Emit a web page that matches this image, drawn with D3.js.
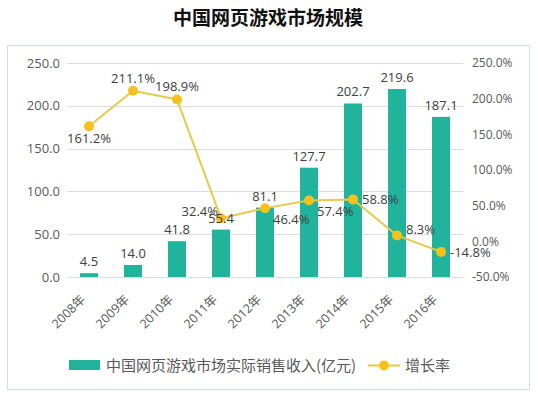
<!DOCTYPE html>
<html>
<head>
<meta charset="utf-8">
<script src="https://cdn.jsdelivr.net/npm/d3@7"></script>
<style>
  body { margin: 0; background: #fff; }
  text { font-family: "Open Sans", "Noto Sans CJK SC", sans-serif; }
</style>
</head>
<body>
<script>
var w = 538;
var h = 398;

var years = ["2008年", "2009年", "2010年", "2011年", "2012年", "2013年", "2014年", "2015年", "2016年"];
var revenue = [4.5, 14.0, 41.8, 55.4, 81.1, 127.7, 202.7, 219.6, 187.1];
var growth = [161.2, 211.1, 198.9, 32.4, 46.4, 57.4, 58.8, 8.3, -14.8];
var leftTicks = [0, 50, 100, 150, 200, 250];
var rightTicks = [-50, 0, 50, 100, 150, 200, 250];
// where each growth label sits relative to its point
var growthLabelPos = ["below", "above", "above", "leftAbove", "rightBelow", "rightBelow", "right", "rightAbove", "right"];

var teal = "#21b39b";
var gold = "#f6c11c";
var goldLine = "#e9c84e";

var svg = d3.select("body")
    .append("svg")
    .attr("width", w)
    .attr("height", h);

// title
svg.append("text")
    .attr("x", 268)
    .attr("y", 25)
    .attr("text-anchor", "middle")
    .style("font-family", "'Noto Sans CJK SC', sans-serif")
    .style("font-weight", "bold")
    .style("font-size", "19px")
    .style("fill", "#111")
    .text("中国网页游戏市场规模");

// chart frame
svg.append("rect")
    .attr("x", 7.5)
    .attr("y", 45.5)
    .attr("width", 522)
    .attr("height", 344)
    .attr("fill", "none")
    .attr("stroke", "#d3dcdc");

var x = d3.scaleBand()
    .domain(years)
    .range([67, 463])
    .paddingInner(0.59)
    .paddingOuter(0.295);

var yL = d3.scaleLinear().domain([0, 250]).range([277, 63]);
var yR = d3.scaleLinear().domain([-50, 250]).range([277, 63]);

// gridlines
svg.append("g")
    .selectAll("line")
    .data(leftTicks)
    .enter()
    .append("line")
    .attr("x1", 67)
    .attr("x2", 463)
    .attr("y1", function (d) { return Math.round(yL(d)) + 0.5; })
    .attr("y2", function (d) { return Math.round(yL(d)) + 0.5; })
    .attr("stroke", "#dcdcdc");

// left axis
var leftAxis = svg.append("g")
    .attr("transform", "translate(60,0)")
    .call(d3.axisLeft(yL).tickValues(leftTicks).tickSize(0).tickPadding(0)
        .tickFormat(function (d) { return d.toFixed(1); }));
leftAxis.select(".domain").remove();
leftAxis.selectAll("text")
    .style("font-size", "13px")
    .style("fill", "#595959");

// right axis
var rightAxis = svg.append("g")
    .attr("transform", "translate(472,0)")
    .call(d3.axisRight(yR).tickValues(rightTicks).tickSize(0).tickPadding(0)
        .tickFormat(function (d) { return d.toFixed(1) + "%"; }));
rightAxis.select(".domain").remove();
rightAxis.selectAll("text")
    .style("font-size", "12px")
    .style("fill", "#595959");

// bars
svg.selectAll("rect.bar")
    .data(revenue)
    .enter()
    .append("rect")
    .attr("class", "bar")
    .attr("x", function (d, i) { return x(years[i]); })
    .attr("width", x.bandwidth())
    .attr("y", function (d) { return yL(d); })
    .attr("height", function (d) { return yL(0) - yL(d); })
    .attr("fill", teal);

// x axis labels
var xAxis = svg.append("g")
    .attr("transform", "translate(0,283)")
    .call(d3.axisBottom(x).tickSize(0).tickPadding(0));
xAxis.select(".domain").remove();
xAxis.selectAll("text")
    .attr("text-anchor", "end")
    .attr("dy", "0.35em")
    .attr("transform", "translate(-6,14) rotate(-45)")
    .style("font-family", "'Open Sans', 'Noto Sans CJK SC', sans-serif")
    .style("font-size", "12.5px")
    .style("fill", "#595959");

// growth line
var cx = function (d, i) { return x(years[i]) + x.bandwidth() / 2; };
var line = d3.line()
    .x(cx)
    .y(function (d) { return yR(d); });

svg.append("path")
    .datum(growth)
    .attr("d", line)
    .attr("fill", "none")
    .attr("stroke", goldLine)
    .attr("stroke-width", 2);

svg.selectAll("circle.pt")
    .data(growth)
    .enter()
    .append("circle")
    .attr("class", "pt")
    .attr("cx", cx)
    .attr("cy", function (d) { return yR(d); })
    .attr("r", 5)
    .attr("fill", gold);

// labels on top of everything
svg.selectAll("text.barlabel")
    .data(revenue)
    .enter()
    .append("text")
    .attr("class", "barlabel")
    .attr("x", function (d, i) { return x(years[i]) + x.bandwidth() / 2; })
    .attr("y", function (d) { return yL(d) - 7; })
    .attr("text-anchor", "middle")
    .style("font-size", "13px")
    .style("fill", "#404040")
    .text(function (d) { return d.toFixed(1); });

var offsets = {
    below: [0, 17, "middle"],
    above: [0, -8, "middle"],
    leftAbove: [-3, -2, "end"],
    rightBelow: [8, 16, "start"],
    right: [9, 5, "start"],
    rightAbove: [9, -1, "start"]
};

svg.selectAll("text.growthlabel")
    .data(growth)
    .enter()
    .append("text")
    .attr("class", "growthlabel")
    .attr("x", function (d, i) { return cx(d, i) + offsets[growthLabelPos[i]][0]; })
    .attr("y", function (d, i) { return yR(d) + offsets[growthLabelPos[i]][1]; })
    .attr("text-anchor", function (d, i) { return offsets[growthLabelPos[i]][2]; })
    .style("font-size", "13px")
    .style("fill", "#404040")
    .text(function (d) { return d.toFixed(1) + "%"; });

// legend
var legend = svg.append("g");
legend.append("rect")
    .attr("x", 69)
    .attr("y", 360)
    .attr("width", 31)
    .attr("height", 10)
    .attr("fill", teal);
legend.append("text")
    .attr("x", 106)
    .attr("y", 371)
    .style("font-family", "'Noto Sans CJK SC', sans-serif")
    .style("font-size", "15px")
    .style("fill", "#595959")
    .text("中国网页游戏市场实际销售收入(亿元)");
legend.append("line")
    .attr("x1", 368)
    .attr("x2", 400)
    .attr("y1", 365.5)
    .attr("y2", 365.5)
    .attr("stroke", goldLine)
    .attr("stroke-width", 2);
legend.append("circle")
    .attr("cx", 384)
    .attr("cy", 365.5)
    .attr("r", 5)
    .attr("fill", gold);
legend.append("text")
    .attr("x", 405)
    .attr("y", 371)
    .style("font-family", "'Noto Sans CJK SC', sans-serif")
    .style("font-size", "15px")
    .style("fill", "#595959")
    .text("增长率");
</script>
</body>
</html>
